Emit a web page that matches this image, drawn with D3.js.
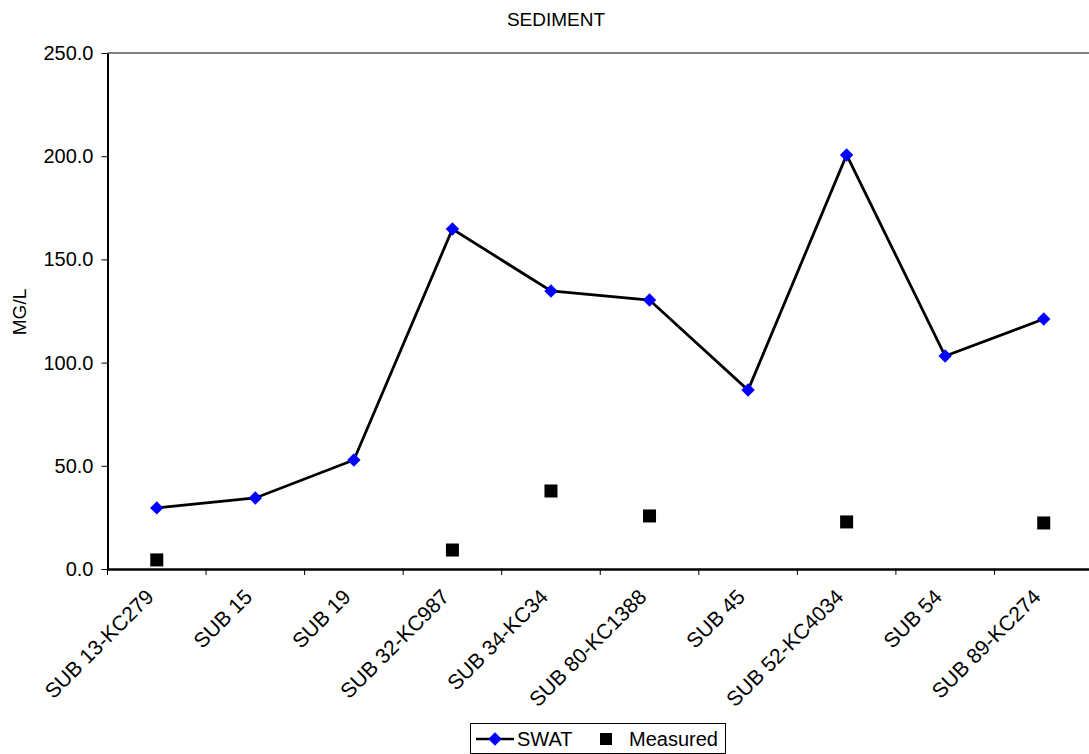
<!DOCTYPE html>
<html><head><meta charset="utf-8">
<script src="https://cdn.jsdelivr.net/npm/d3@7"></script>
<style>body{margin:0;background:#fff}svg{display:block;font-family:"Liberation Sans",Arial,sans-serif}</style>
</head><body>
<svg id="chart" width="1089" height="754"></svg>
<script>
const categories = ["SUB 13-KC279","SUB 15","SUB 19","SUB 32-KC987","SUB 34-KC34","SUB 80-KC1388","SUB 45","SUB 52-KC4034","SUB 54","SUB 89-KC274"];
const swat = [29.6, 34.4, 52.8, 164.7, 134.7, 130.3, 86.7, 200.6, 103.2, 121.1];
const measured = [4.4, null, null, 9.2, 37.8, 25.7, null, 22.8, null, 22.3];
const yTicks = [0, 50, 100, 150, 200, 250];

(function(){
const svg = d3.select("#chart");
const pLeft = 107.5, pRight = 1093, pTop = 53, pBottom = 569;
const x = d3.scaleBand().domain(categories).range([pLeft, pRight]);
const y = d3.scaleLinear().domain([0, 250]).range([pBottom, pTop]);

// plot border top
svg.append("line").attr("x1", pLeft).attr("x2", 1089).attr("y1", pTop).attr("y2", pTop)
  .attr("stroke", "#555").attr("stroke-width", 1.5);

// y axis
const ya = svg.append("g").attr("transform", `translate(${pLeft},0)`)
  .call(d3.axisLeft(y).tickValues(yTicks).tickFormat(d3.format(".1f")).tickSize(6).tickSizeOuter(0));
ya.select(".domain").attr("stroke", "#000").attr("stroke-width", 2);
ya.selectAll(".tick line").attr("stroke", "#000");
ya.selectAll("text").attr("font-size", 20).attr("fill", "#000").attr("x", -14).attr("font-family", "Liberation Sans, Arial, sans-serif");

// x axis
const xa = svg.append("g").attr("transform", `translate(0,${pBottom})`)
  .call(d3.axisBottom(x).tickSize(0).tickSizeOuter(0).tickFormat(""));
xa.select(".domain").attr("stroke", "#000").attr("stroke-width", 2.5);
// boundary ticks
const bounds = categories.map(c => x(c)).concat([x(categories[categories.length-1]) + x.bandwidth()]);
svg.append("g").selectAll("line").data(bounds).join("line")
  .attr("x1", d => d).attr("x2", d => d).attr("y1", pBottom).attr("y2", pBottom + 6)
  .attr("stroke", "#000").attr("stroke-width", 1);
// rotated labels
svg.append("g").selectAll("text").data(categories).join("text")
  .attr("transform", d => `translate(${x(d) + x.bandwidth()/2 - 7},${pBottom + 24}) rotate(-45)`)
  .attr("text-anchor", "end").attr("dy", "0.35em")
  .attr("font-size", 21).attr("fill", "#000").text(d => d);

// title
svg.append("text").attr("x", 556).attr("y", 26).attr("text-anchor", "middle")
  .attr("font-size", 19).text("SEDIMENT");
// y label
svg.append("text").attr("transform", "translate(26,312) rotate(-90)").attr("text-anchor", "middle")
  .attr("font-size", 19).text("MG/L");

const cx = d => x(d) + x.bandwidth()/2;
// SWAT line
const pts = categories.map((c, i) => [cx(c), y(swat[i])]);
svg.append("path").attr("d", d3.line()(pts)).attr("fill", "none")
  .attr("stroke", "#000").attr("stroke-width", 2.8);
const diamond = d3.symbol().type(d3.symbolSquare).size(90);
svg.append("g").selectAll("path").data(pts).join("path")
  .attr("d", diamond()).attr("transform", d => `translate(${d[0]},${d[1]}) rotate(45)`)
  .attr("fill", "#0000FF");
// Measured
const mpts = categories.map((c, i) => [c, measured[i]]).filter(d => d[1] != null);
svg.append("g").selectAll("rect").data(mpts).join("rect")
  .attr("x", d => cx(d[0]) - 6.5).attr("y", d => y(d[1]) - 6.5)
  .attr("width", 13).attr("height", 13).attr("fill", "#000");

// legend
const lg = svg.append("g");
lg.append("rect").attr("x", 470.5).attr("y", 723.5).attr("width", 255).attr("height", 30)
  .attr("fill", "#fff").attr("stroke", "#000").attr("stroke-width", 1);
lg.append("line").attr("x1", 476).attr("x2", 514).attr("y1", 739).attr("y2", 739)
  .attr("stroke", "#000").attr("stroke-width", 2.5);
lg.append("path").attr("d", diamond()).attr("transform", "translate(495,739) rotate(45)").attr("fill", "#0000FF");
lg.append("text").attr("x", 517).attr("y", 746).attr("font-size", 20).text("SWAT");
lg.append("rect").attr("x", 600).attr("y", 733).attr("width", 12).attr("height", 12).attr("fill", "#000");
lg.append("text").attr("x", 629).attr("y", 746).attr("font-size", 20).text("Measured");
})();
</script>
</body></html>
